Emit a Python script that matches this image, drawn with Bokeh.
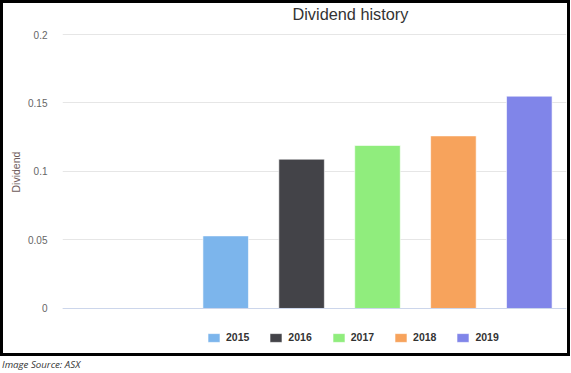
from bokeh.plotting import figure
from bokeh.models import (ColumnDataSource, Range1d, FixedTicker, Span, Legend,
                          LegendItem, Title, Div)
from bokeh.layouts import column
from bokeh.embed import file_html
from bokeh.resources import INLINE

# ---- data ----
years = [2015, 2016, 2017, 2018, 2019]
labels = ["2015", "2016", "2017", "2018", "2019"]
dividends = [0.053, 0.109, 0.119, 0.126, 0.155]
colors = ["#7cb5ec", "#434348", "#90ed7d", "#f7a35c", "#8085e9"]
y_ticks = [0, 0.05, 0.1, 0.15, 0.2]
y_tick_labels = ["0", "0.05", "0.1", "0.15", "0.2"]

FONT = "Liberation Sans"

p = figure(width=570, height=356, output_backend="svg", toolbar_location=None,
           x_range=Range1d(2012.85, 2019.49), y_range=Range1d(-0.03066, 0.2073),
           min_border_left=57, min_border_right=7, min_border_top=21,
           min_border_bottom=9)
p.outline_line_color = None
p.background_fill_color = "#ffffff"
p.border_fill_color = "#ffffff"
p.styles = {"border": "3px solid #000000", "overflow": "hidden"}

# title
p.title.text = "Dividend history"
p.title.text_font = FONT
p.title.text_font_size = "16.3px"
p.title.text_font_style = "normal"
p.title.text_color = "#333333"
p.title.align = "left"
p.title.offset = 230
p.title.standoff = 0
p.title.vertical_align = "top"

# axes
p.xaxis.visible = False
p.xgrid.visible = False
yax = p.yaxis[0]
yax.ticker = FixedTicker(ticks=y_ticks)
yax.major_label_overrides = {t: l for t, l in zip(y_ticks, y_tick_labels)}
yax.axis_line_color = None
yax.major_tick_line_color = None
yax.minor_tick_line_color = None
yax.major_tick_out = 0
yax.major_tick_in = 0
yax.minor_tick_out = 0
yax.major_label_text_font = FONT
yax.major_label_text_font_size = "10px"
yax.major_label_text_color = "#666666"
yax.major_label_standoff = 15
p.ygrid.grid_line_color = "#e6e6e6"
p.ygrid.grid_line_width = 1
p.ygrid.ticker = FixedTicker(ticks=y_ticks)

ylabel = Title(text="Dividend", align="left", offset=158, standoff=8,
               text_font=FONT, text_font_size="10.5px", text_font_style="normal",
               text_color="#6e5b5b")
p.add_layout(ylabel, "left")

# bars
items = []
for yr, lab, d, c in zip(years, labels, dividends, colors):
    src = ColumnDataSource(dict(x=[yr], top=[d]))
    r = p.vbar(x="x", top="top", bottom=0, width=0.6, source=src,
               fill_color=c, line_color="#ffffff", line_width=1, line_alpha=0.6)
    items.append(LegendItem(label=lab, renderers=[r]))

# baseline
p.add_layout(Span(location=0, dimension="width", line_color="#ccd6eb", line_width=1))

legend = Legend(items=items, orientation="horizontal", location=(144, 7),
                glyph_width=15, glyph_height=11, label_standoff=5, spacing=19,
                padding=5, margin=0, label_height=11,
                label_text_font=FONT, label_text_font_size="10.5px",
                label_text_font_style="bold", label_text_color="#333333",
                border_line_color=None, background_fill_alpha=0)
p.add_layout(legend)

caption = Div(text="Image Source: ASX", width=200, height=17, margin=(0, 0, 0, 0),
              styles={"font-family": "Open Sans", "font-style": "italic",
                      "font-size": "9.7px", "color": "#333333",
                      "line-height": "18px", "padding-left": "2px"})

layout = column(p, caption, spacing=0)
open("out.html", "w").write(file_html(layout, INLINE))
